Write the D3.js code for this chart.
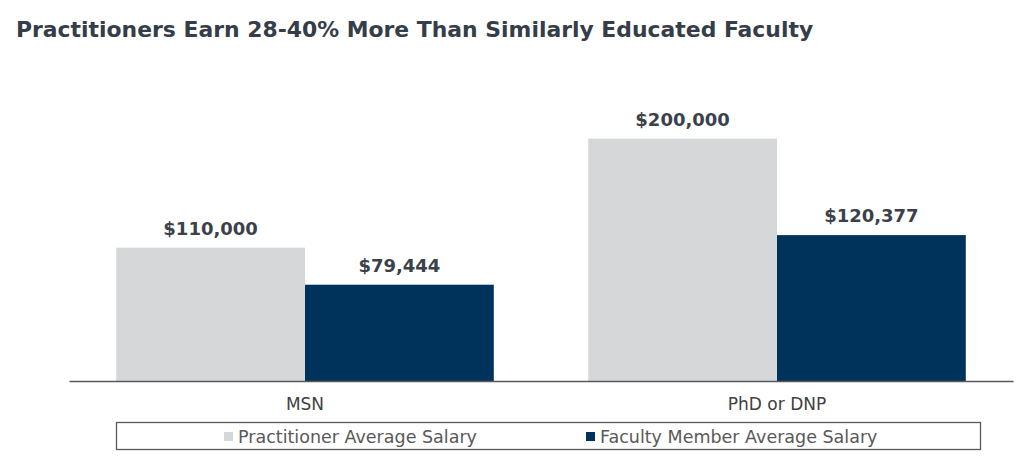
<!DOCTYPE html>
<html>
<head>
<meta charset="utf-8">
<script src="https://cdn.jsdelivr.net/npm/d3@7"></script>
<style>
  body { margin: 0; background: #fff; }
  text { font-family: "DejaVu Sans", Verdana, sans-serif; }
</style>
</head>
<body>
<div id="chart"></div>
<script>
// Chart data
var categories = ["MSN", "PhD or DNP"];
var seriesNames = ["Practitioner Average Salary", "Faculty Member Average Salary"];
var practitionerSalary = [110000, 200000];
var facultySalary = [79444, 120377];
var seriesColors = ["#d6d7d9", "#00335b"];

var svgWidth = 1024;
var svgHeight = 472;

var margin = { top: 78, right: 11, bottom: 91, left: 69 };
var width = svgWidth - margin.left - margin.right;
var height = svgHeight - margin.top - margin.bottom;

var svg = d3
  .select("#chart")
  .append("svg")
  .attr("width", svgWidth)
  .attr("height", svgHeight);

// title
svg
  .append("text")
  .attr("x", 16)
  .attr("y", 37)
  .attr("font-size", 21.9)
  .attr("font-weight", "bold")
  .attr("fill", "#353d48")
  .text("Practitioners Earn 28-40% More Than Similarly Educated Faculty");

var chartGroup = svg
  .append("g")
  .attr("transform", `translate(${margin.left}, ${margin.top})`);

// build rows for the grouped bars
var rows = categories.map(function(c, i) {
  return { category: c, values: [practitionerSalary[i], facultySalary[i]] };
});

var x0 = d3
  .scaleBand()
  .domain(categories)
  .range([0, width])
  .paddingInner(0.2)
  .paddingOuter(0.1);

var x1 = d3
  .scaleBand()
  .domain([0, 1])
  .range([0, x0.bandwidth()]);

var y = d3
  .scaleLinear()
  .domain([0, 250000])
  .range([height, 0]);

var groups = chartGroup
  .selectAll("g.cat")
  .data(rows)
  .enter()
  .append("g")
  .attr("class", "cat")
  .attr("transform", d => `translate(${x0(d.category)}, 0)`);

groups
  .selectAll("rect")
  .data(d => d.values)
  .enter()
  .append("rect")
  .attr("x", (d, i) => x1(i))
  .attr("y", d => y(d))
  .attr("width", x1.bandwidth())
  .attr("height", d => height - y(d))
  .attr("fill", (d, i) => seriesColors[i]);

groups
  .selectAll("text.val")
  .data(d => d.values)
  .enter()
  .append("text")
  .attr("class", "val")
  .attr("x", (d, i) => x1(i) + x1.bandwidth() / 2)
  .attr("y", d => y(d) - 13)
  .attr("text-anchor", "middle")
  .attr("font-size", 18)
  .attr("font-weight", "bold")
  .attr("fill", "#3b414a")
  .text(d => "$" + d3.format(",")(d));

// x axis
var xAxis = chartGroup
  .append("g")
  .attr("transform", `translate(0, ${height})`)
  .call(d3.axisBottom(x0).tickSize(0).tickPadding(0));

xAxis.select(".domain").attr("stroke", "#595959").attr("stroke-width", 1.3);
xAxis
  .selectAll(".tick text")
  .attr("dy", 0)
  .attr("y", 29)
  .attr("font-size", 17)
  .attr("font-family", "DejaVu Sans, Verdana, sans-serif")
  .attr("fill", "#404040");

// legend
var legend = svg.append("g");
legend
  .append("rect")
  .attr("x", 116.5)
  .attr("y", 422.5)
  .attr("width", 864)
  .attr("height", 27)
  .attr("fill", "none")
  .attr("stroke", "#595959")
  .attr("stroke-width", 1.3);

var legendX = [224, 586];
seriesNames.forEach(function(name, i) {
  legend
    .append("rect")
    .attr("x", legendX[i])
    .attr("y", 432)
    .attr("width", 9)
    .attr("height", 9)
    .attr("fill", seriesColors[i]);
  legend
    .append("text")
    .attr("x", legendX[i] + 14)
    .attr("y", 442.5)
    .attr("font-size", 17.5)
    .attr("fill", "#595959")
    .text(name);
});
</script>
</body>
</html>
